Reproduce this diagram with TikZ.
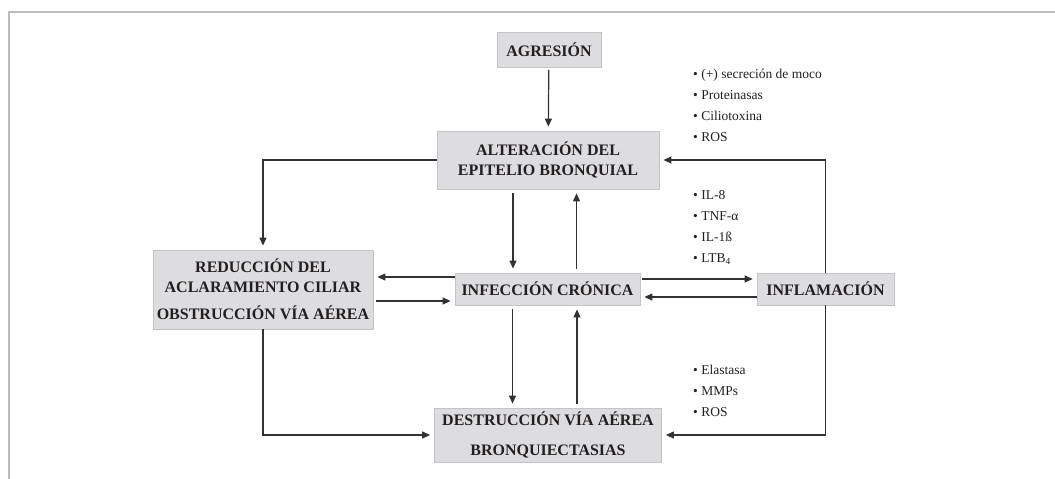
\documentclass[tikz,border=0pt]{standalone}
\usepackage{fontspec}
\setmainfont{Liberation Serif}
\usetikzlibrary{arrows.meta}
\definecolor{cajagris}{RGB}{221,221,223}
\definecolor{bordegris}{RGB}{196,196,198}
\definecolor{lineagris}{RGB}{50,50,50}
\definecolor{textocaja}{RGB}{35,31,32}
\definecolor{marco}{RGB}{187,187,187}

\begin{document}
\begin{tikzpicture}[x=1pt,y=-1pt,>={Triangle[length=8pt,width=7pt]},
		caja/.style={fill=cajagris,draw=bordegris,line width=0.8pt,inner sep=0pt,align=center,text=textocaja,font=\bfseries\fontsize{16}{20}\selectfont},
		flecha/.style={->,draw=lineagris,line width=1.2pt,shorten >=4pt},
		lista/.style={anchor=north west,inner sep=0pt,align=left,text=textocaja,font=\fontsize{13.5}{21}\selectfont}]
		\useasboundingbox (0,0) rectangle (1055,479);
		\draw[marco,line width=1.5pt] (9,479) -- (9,12) -- (1055,12);
		
		\node[caja,minimum width=104,minimum height=35] (agresion) at (549,50) {AGRESIÓN};
		\node[caja,minimum width=222,minimum height=58] (alteracion) at (548,160) {ALTERACIÓN DEL\\EPITELIO BRONQUIAL};
		\node[caja,minimum width=220,minimum height=79] (reduccion) at (263,289.5) {REDUCCIÓN DEL\\ACLARAMIENTO CILIAR\\[7pt]OBSTRUCCIÓN VÍA AÉREA};
		\node[caja,minimum width=185,minimum height=32] (infeccion) at (547.5,289) {INFECCIÓN CRÓNICA};
		\node[caja,minimum width=137,minimum height=32] (inflamacion) at (825.5,289) {INFLAMACIÓN};
		\node[caja,minimum width=227,minimum height=54] (destruccion) at (548,435) {DESTRUCCIÓN VÍA AÉREA\\[10pt]BRONQUIECTASIAS};
		
		\node[lista] (lista1) at (693,69) {• (+) secreción de moco\\• Proteinasas\\• Ciliotoxina\\• ROS};
		\node[lista] (lista2) at (693,190) {• IL-8\\• TNF-α\\• IL-1ß\\• LTB\textsubscript{4}};
		\node[lista] (lista3) at (693,365) {• Elastasa\\• MMPs\\• ROS};
		
		\draw[flecha,shorten <=2pt] (agresion) -- (alteracion);
		\draw[flecha] (alteracion.west) -| (reduccion.north);
		\draw[flecha] (inflamacion.north) |- (alteracion.east);
		\draw[flecha] (inflamacion.south) |- (destruccion.east);
		\draw[flecha] (reduccion.south) |- (destruccion.west);
		
		\draw[flecha,shorten <=4pt] ([xshift=-35]alteracion.south) -- ([xshift=-35]alteracion.south |- infeccion.north);
		\draw[flecha,shorten <=4pt] ([xshift=29]infeccion.north) -- ([xshift=29]infeccion.north |- alteracion.south);
		\draw[flecha,shorten <=4pt] ([xshift=-35]infeccion.south) -- ([xshift=-35]infeccion.south |- destruccion.north);
		\draw[flecha,shorten <=4pt] ([xshift=29]destruccion.north) -- ([xshift=29]destruccion.north |- infeccion.south);
		
		\draw[flecha] ([yshift=12]infeccion.west) -- ([yshift=12]infeccion.west -| reduccion.east);
		\draw[flecha,shorten <=3pt] ([yshift=-12]reduccion.east |- infeccion.west) -- ([yshift=-12]infeccion.west);
		\draw[flecha,shorten <=2pt] ([yshift=10]infeccion.east) -- ([yshift=10]infeccion.east -| inflamacion.west);
		\draw[flecha] ([yshift=-8]inflamacion.west) -- ([yshift=-8]inflamacion.west -| infeccion.east);
	\end{tikzpicture}
\end{document}
